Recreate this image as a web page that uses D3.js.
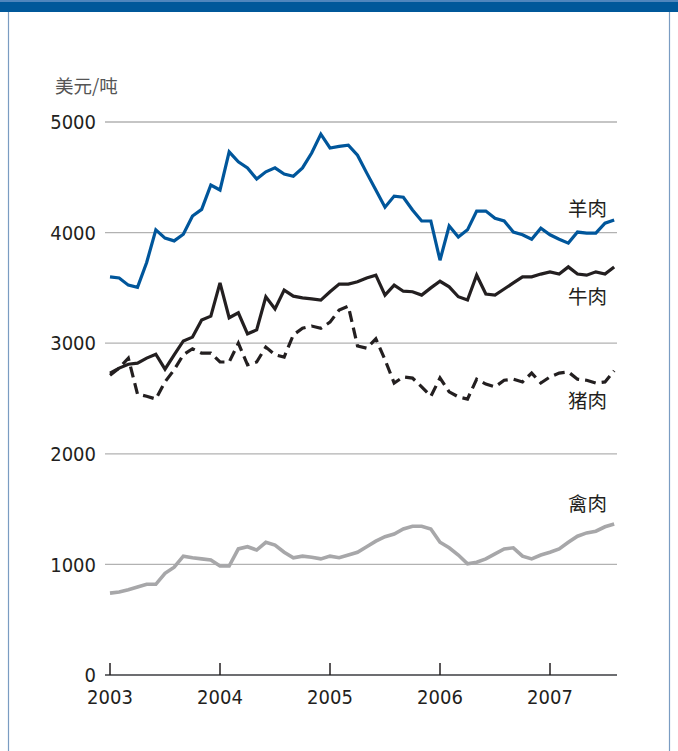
<!DOCTYPE html>
<html>
<head>
<meta charset="utf-8">
<script src="https://cdn.jsdelivr.net/npm/d3@7"></script>
<style>
  html, body { margin: 0; padding: 0; background: #fff; }
  svg { display: block; font-family: "Noto Sans CJK SC", "Noto Sans", sans-serif; }
</style>
</head>
<body>
<div id="chart"></div>
<script>
// ── Data (monthly, Jan 2003 – Aug 2007), US$/ton ─────────────
const startYear = 2003;
const yearTicks = [2003, 2004, 2005, 2006, 2007];
const valueTicks = [0, 1000, 2000, 3000, 4000, 5000];

const mutton = [3600, 3590, 3525, 3505, 3730, 4025, 3950, 3925, 3985, 4150, 4210, 4430,
  4385, 4730, 4640, 4585, 4485, 4550, 4585, 4530, 4510, 4585, 4720, 4890,
  4765, 4780, 4790, 4700, 4540, 4385, 4230, 4330, 4320, 4205, 4105, 4105,
  3750, 4060, 3960, 4025, 4195, 4195, 4130, 4105, 4005, 3980, 3940, 4040,
  3980, 3940, 3905, 4005, 3995, 3995, 4085, 4115];

const beef = [2730, 2775, 2810, 2820, 2865, 2900, 2765, 2895, 3020, 3055, 3210, 3245,
  3545, 3230, 3275, 3085, 3120, 3420, 3310, 3480, 3425, 3410, 3400, 3390,
  3465, 3535, 3535, 3555, 3590, 3615, 3435, 3525, 3470, 3465, 3435, 3500,
  3560, 3510, 3420, 3390, 3615, 3445, 3435, 3490, 3545, 3600, 3600, 3625,
  3645, 3625, 3690, 3625, 3615, 3645, 3625, 3690];

const pork = [2710, 2775, 2865, 2540, 2520, 2495, 2650, 2760, 2895, 2950, 2910, 2910,
  2830, 2830, 3000, 2805, 2830, 2965, 2895, 2875, 3075, 3135, 3155, 3135,
  3190, 3300, 3335, 2975, 2955, 3040, 2850, 2640, 2695, 2685, 2605, 2520,
  2685, 2560, 2515, 2495, 2675, 2630, 2605, 2665, 2675, 2650, 2730, 2640,
  2695, 2730, 2740, 2675, 2665, 2640, 2650, 2750];

const poultry = [740, 750, 770, 795, 820, 820, 920, 975, 1075, 1060, 1050, 1040,
  985, 985, 1140, 1160, 1130, 1200, 1175, 1110, 1060, 1075, 1065, 1050,
  1075, 1060, 1085, 1110, 1160, 1210, 1250, 1275, 1320, 1345, 1345, 1320,
  1200, 1150, 1085, 1005, 1020, 1050, 1095, 1140, 1150, 1075, 1050, 1085,
  1110, 1140, 1200, 1255, 1285, 1300, 1340, 1365];

const series = [
  { name: '禽肉', values: poultry, color: '#a7a7a9', width: 3.6, dash: null, labelY: 504 },
  { name: '猪肉', values: pork,    color: '#231f20', width: 3.2, dash: '11,6', labelY: 401 },
  { name: '牛肉', values: beef,    color: '#231f20', width: 3.2, dash: null, labelY: 297 },
  { name: '羊肉', values: mutton,  color: '#00569b', width: 3.2, dash: null, labelY: 209 },
];

// ── Layout ───────────────────────────────────────────────────
const W = 678, H = 751;
const x = d3.scaleLinear().domain([2003, 2007]).range([110, 550]);
const y = d3.scaleLinear().domain([0, 5000]).range([675, 122]);
const gridX0 = 105, gridX1 = 617;
const numFont = '"Liberation Sans Narrow", "DejaVu Sans Condensed", "Noto Sans", sans-serif';

const svg = d3.select('#chart').append('svg')
  .attr('width', W).attr('height', H);

// frame + top bar
svg.append('rect').attr('x', 0).attr('y', 0).attr('width', W).attr('height', 12).attr('fill', '#00589a');
svg.append('rect').attr('x', 0).attr('y', 0).attr('width', W).attr('height', 2).attr('fill', '#4f86bd');
svg.append('line').attr('x1', 8.5).attr('x2', 8.5).attr('y1', 12).attr('y2', H)
  .attr('stroke', '#7a9cc2').attr('stroke-width', 1.2);
svg.append('line').attr('x1', 669.5).attr('x2', 669.5).attr('y1', 12).attr('y2', H)
  .attr('stroke', '#7a9cc2').attr('stroke-width', 1.2);

// units
svg.append('text').attr('x', 55).attr('y', 87)
  .attr('dy', '0.35em')
  .attr('font-size', 18.5).attr('fill', '#555')
  .text('美元/吨');

// gridlines
svg.append('g').selectAll('line')
  .data(valueTicks.filter(v => v > 0)).join('line')
  .attr('x1', gridX0).attr('x2', gridX1)
  .attr('y1', d => y(d)).attr('y2', d => y(d))
  .attr('stroke', '#b2b2b2').attr('stroke-width', 1.3);

// y labels
svg.append('g').selectAll('text')
  .data(valueTicks).join('text')
  .attr('x', 96).attr('y', d => y(d))
  .attr('dy', '0.36em')
  .attr('text-anchor', 'end')
  .attr('font-family', numFont)
  .attr('font-size', 20).attr('fill', '#231f20')
  .text(d => d);

// x axis
svg.append('line').attr('x1', gridX0).attr('x2', gridX1)
  .attr('y1', y(0)).attr('y2', y(0))
  .attr('stroke', '#6d6e71').attr('stroke-width', 2);
svg.append('g').selectAll('line')
  .data(yearTicks).join('line')
  .attr('x1', d => x(d)).attr('x2', d => x(d))
  .attr('y1', y(0)).attr('y2', y(0) - 12)
  .attr('stroke', '#231f20').attr('stroke-width', 1.5);
svg.append('g').selectAll('text')
  .data(yearTicks).join('text')
  .attr('x', d => x(d)).attr('y', 697)
  .attr('dy', '0.36em')
  .attr('text-anchor', 'middle')
  .attr('font-family', numFont)
  .attr('font-size', 20).attr('fill', '#231f20')
  .text(d => d);

// lines
const line = d3.line()
  .x((d, i) => x(startYear + i / 12))
  .y(d => y(d));

svg.append('g').selectAll('path')
  .data(series).join('path')
  .attr('d', d => line(d.values))
  .attr('fill', 'none')
  .attr('stroke', d => d.color)
  .attr('stroke-width', d => d.width)
  .attr('stroke-dasharray', d => d.dash)
  .attr('stroke-linejoin', 'miter')
  .attr('stroke-miterlimit', 3);

// series labels
svg.append('g').selectAll('text')
  .data(series).join('text')
  .attr('x', 568).attr('y', d => d.labelY)
  .attr('dy', '0.35em')
  .attr('font-size', 19.5).attr('fill', '#231f20')
  .text(d => d.name);
</script>
</body>
</html>
